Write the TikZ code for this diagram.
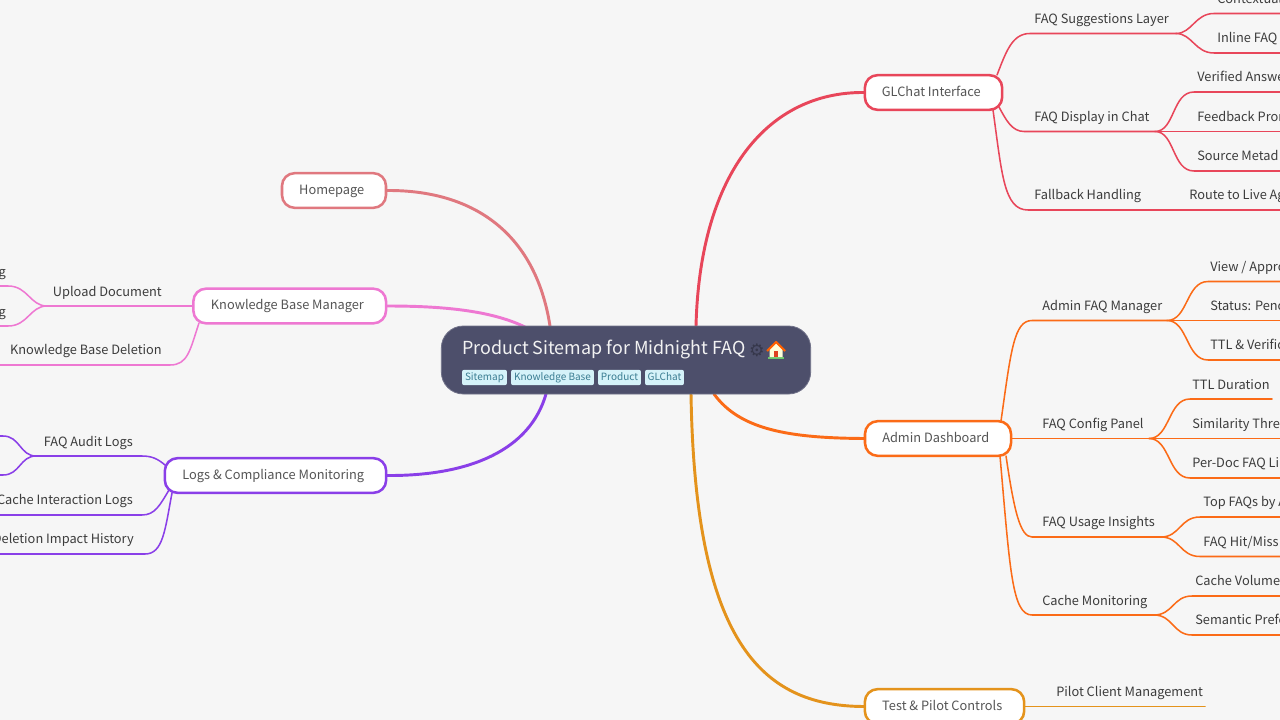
\documentclass[tikz,border=0pt]{standalone}
\usepackage{fontspec}
\setmainfont{Noto Sans CJK SC}
\newfontfamily\symfont{DejaVu Sans}
\pgfdeclarelayer{lines}
\pgfsetlayers{lines,main}
\definecolor{bgc}{HTML}{F6F6F6}
\definecolor{rootc}{HTML}{4D4F6B}
\definecolor{hpc}{HTML}{E0787F}
\definecolor{kbc}{HTML}{EE78D2}
\definecolor{lgc}{HTML}{8A3FE8}
\definecolor{glc}{HTML}{E8465A}
\definecolor{adc}{HTML}{FB6B17}
\definecolor{tpc}{HTML}{E4931C}
\definecolor{tagf}{HTML}{D5F2F9}
\definecolor{tagt}{HTML}{3B7D92}
\definecolor{leaft}{HTML}{3C3C3C}
\definecolor{brt}{HTML}{555555}
\newcommand{\fs}{\fontsize{9.6pt}{12pt}\selectfont}
\newcommand{\tk}{\kern3.4pt}
\tikzset{
 x=0.75pt,y=-0.75pt,
 branch/.style={draw=#1,line width=1.9pt,fill=white,rounded corners=9.5pt,inner sep=0pt,text=brt,font=\fs,minimum height=26pt,text height=8pt,text depth=2.3pt},
 mainline/.style={draw=#1,line width=2.2pt,line cap=round},
 subline/.style={draw=#1,line width=1.15pt,line cap=round},
 lbl/.style={anchor=base west,inner sep=0pt,text=leaft,font=\fs},
 lblr/.style={anchor=base east,inner sep=0pt,text=leaft,font=\fs},
 tagbox/.style={anchor=center,fill=tagf,rounded corners=1.5pt,inner sep=0pt,minimum height=11.5pt,text=tagt,font=\fontsize{7.5pt}{10pt}\selectfont,text height=6pt,text depth=1pt},
}
\begin{document}
\begin{tikzpicture}
\useasboundingbox (0,0) rectangle (1280,720);
\clip (0,0) rectangle (1280,720);
\begin{pgfonlayer}{lines}
\fill[bgc] (0,0) rectangle (1280,720);
\end{pgfonlayer}
% root
\node[draw=rootc!80!white,line width=0.6pt,fill=rootc,rounded corners=16.5pt,minimum width=277pt,minimum height=51pt,inner sep=0pt] (root) at (626,360) {};
\node[anchor=base west,inner sep=0pt,text=white!95!black,font=\fontsize{13.43pt}{18pt}\selectfont] (title) at (462,354) {Product Sitemap for Midnight FAQ};
\node[inner sep=0pt,text=rootc!70!black,font=\symfont\fontsize{13pt}{14pt}\selectfont] (gear) at (757,350) {⚙};
\node[tagbox,minimum width=33.7pt] (t1) at (484.5,377.5) {Sitemap};
\node[tagbox,minimum width=62.2pt] (t2) at (552.5,377.5) {Knowledge Base};
\node[tagbox,minimum width=32.2pt] (t3) at (619.5,377.5) {Product};
\node[tagbox,minimum width=29.2pt] (t4) at (664.5,377.5) {GLChat};
% house icon
\fill[green!45!gray!80] (768,356.5) rectangle (784,359);
\fill[yellow!15!white] (769.5,349) -- (776,343) -- (782.5,349) -- (782.5,357) -- (769.5,357) -- cycle;
\fill[red!50!brown] (774,351) rectangle (778,357);
\draw[orange!75!red,line width=1.6pt,line join=round] (767,351) -- (776,342) -- (785,351);
% branches
\node[branch=hpc,minimum width=78pt] (hp) at (334,190.5) {Homepage\tk};
\node[branch=kbc,minimum width=144.5pt] (kb) at (289.7,306) {Knowledge Base Manager\tk};
\node[branch=lgc,minimum width=166pt] (lg) at (275.5,475.5) {Logs \& Compliance Monitoring\tk};
\node[branch=glc,minimum width=103pt] (gl) at (933.5,92.5) {GLChat Interface\tk};
\node[branch=adc,minimum width=109.5pt] (ad) at (938,438.5) {Admin Dashboard\tk};
\node[branch=tpc,minimum width=119.5pt] (tp) at (944.5,706.5) {Test \& Pilot Controls\tk};
% labels, right side
\node[lbl] (a1) at (1034,24) {FAQ Suggestions Layer};
\node[lbl] (a2) at (1034,122) {FAQ Display in Chat};
\node[lbl] (a3) at (1034,200) {Fallback Handling};
\node[lbl] (a11) at (1217,4) {Contextual};
\node[lbl] (a12) at (1217,43) {Inline FAQ};
\node[lbl] (a21) at (1197,82) {Verified Answe};
\node[lbl] (a22) at (1197,121.5) {Feedback Pror};
\node[lbl] (a23) at (1197,161) {Source Metad};
\node[lbl] (a31) at (1189,200) {Route to Live Ag};
\node[lbl] (b1) at (1042,310) {Admin FAQ Manager};
\node[lbl] (b2) at (1042,428) {FAQ Config Panel};
\node[lbl] (b3) at (1042,526.5) {FAQ Usage Insights};
\node[lbl] (b4) at (1042,605) {Cache Monitoring};
\node[lbl] (b11) at (1210,271) {View / Appro};
\node[lbl] (b12) at (1210,310) {Status: Penc};
\node[lbl] (b13) at (1210,349) {TTL \& Verific};
\node[lbl] (b21) at (1192,389) {TTL Duration};
\node[lbl] (b22) at (1192,428) {Similarity Thre};
\node[lbl] (b23) at (1192,467) {Per-Doc FAQ Li};
\node[lbl] (b31) at (1203,506.5) {Top FAQs by A};
\node[lbl] (b32) at (1203,546) {FAQ Hit/Miss};
\node[lbl] (b41) at (1195,585) {Cache Volume};
\node[lbl] (b42) at (1195,624) {Semantic Prefe};
\node[lbl] (c1) at (1056,696) {Pilot Client Management};
% labels, left side
\node[lblr] (k11) at (6,276) {g};
\node[lblr] (k12) at (6,316) {g};
\node[lblr] (k1) at (162,296) {Upload Document};
\node[lblr] (k2) at (162,354) {Knowledge Base Deletion};
\node[lblr] (l1) at (133,446) {FAQ Audit Logs};
\node[lblr] (l2) at (133,504) {Cache Interaction Logs};
\node[lblr] (l3) at (134,543.5) {Deletion Impact History};
% line ends and bends
\coordinate (rHp) at (550,326); \coordinate (rKb) at (525,327); \coordinate (rLg) at (546,394);
\coordinate (rGl) at (696,326); \coordinate (rAd) at (714,394); \coordinate (rTp) at (691,394);
\coordinate (ja1) at (1176,33.5); \coordinate (ja2) at (1155,131.5); \coordinate (ea3) at (1282,210);
\coordinate (jb1) at (1167,320.5); \coordinate (jb2) at (1149,438.5); \coordinate (jb3) at (1161,537); \coordinate (jb4) at (1154,615);
\coordinate (ec1) at (1205,706.5);
\coordinate (jk1) at (47,306); \coordinate (ek2) at (-2,365);
\coordinate (jl1) at (36,456); \coordinate (el2) at (-2,515); \coordinate (el3) at (-2,554);
\begin{pgfonlayer}{lines}
% main connectors
\draw[mainline=hpc] (hp.east) .. controls (470,190) and (535,230) .. (rHp);
\draw[mainline=kbc] (kb.east) .. controls (440,306) and (490,310) .. (rKb);
\draw[mainline=lgc] (lg.east) .. controls (470,476) and (530,450) .. (rLg);
\draw[mainline=glc] (gl.west) .. controls (770,92) and (700,170) .. (rGl);
\draw[mainline=adc] (ad.west) .. controls (790,438) and (740,430) .. (rAd);
\draw[mainline=tpc] (tp.west) .. controls (760,706) and (695,640) .. (rTp);
% GLChat
\draw[subline=glc] (997,75) .. controls (1006,52) and (1012,33.5) .. (1030,33.5) -- (ja1);
\draw[subline=glc] (999,107) .. controls (1006,120) and (1012,131.5) .. (1024,131.5) -- (ja2);
\draw[subline=glc] (993,110) .. controls (1002,175) and (1004,210) .. (1028,210) -- (ea3);
\draw[subline=glc] (ja1) .. controls (1192,33.5) and (1195,13.5) .. (1214,13.5) -- (1282,13.5);
\draw[subline=glc] (ja1) .. controls (1192,33.5) and (1195,53) .. (1214,53) -- (1282,53);
\draw[subline=glc] (ja2) .. controls (1175,131.5) and (1172,92) .. (1194,92) -- (1282,92);
\draw[subline=glc] (ja2) -- (1282,131.5);
\draw[subline=glc] (ja2) .. controls (1175,131.5) and (1172,171) .. (1194,171) -- (1282,171);
% Admin
\draw[subline=adc] (1001,421) .. controls (1011,350) and (1014,320.5) .. (1032,320.5) -- (jb1);
\draw[subline=adc] (ad.east) -- (jb2);
\draw[subline=adc] (1006,456) .. controls (1014,510) and (1020,537) .. (1032,537) -- (jb3);
\draw[subline=adc] (1000,456) .. controls (1010,570) and (1012,615) .. (1032,615) -- (jb4);
\draw[subline=adc] (jb1) .. controls (1188,320.5) and (1186,281.5) .. (1208,281.5) -- (1282,281.5);
\draw[subline=adc] (jb1) -- (1282,320.5);
\draw[subline=adc] (jb1) .. controls (1188,320.5) and (1186,360) .. (1208,360) -- (1282,360);
\draw[subline=adc] (jb2) .. controls (1170,438.5) and (1168,399) .. (1190,399) -- (1272,399);
\draw[subline=adc] (jb2) -- (1282,438.5);
\draw[subline=adc] (jb2) .. controls (1170,438.5) and (1168,478) .. (1190,478) -- (1282,478);
\draw[subline=adc] (jb3) .. controls (1180,537) and (1180,517) .. (1200,517) -- (1282,517);
\draw[subline=adc] (jb3) .. controls (1180,537) and (1180,556.5) .. (1200,556.5) -- (1282,556.5);
\draw[subline=adc] (jb4) .. controls (1173,615) and (1173,596) .. (1192,596) -- (1282,596);
\draw[subline=adc] (jb4) .. controls (1173,615) and (1173,635) .. (1192,635) -- (1282,635);
% Test
\draw[subline=tpc] (tp.east) -- (ec1);
% KB
\draw[subline=kbc] (kb.west) -- (jk1);
\draw[subline=kbc] (199,323) .. controls (190,350) and (188,365) .. (170,365) -- (ek2);
\draw[subline=kbc] (jk1) .. controls (30,306) and (28,286) .. (8,286) -- (-2,286);
\draw[subline=kbc] (jk1) .. controls (30,306) and (28,326) .. (8,326) -- (-2,326);
% Logs
\draw[subline=lgc] (165,465) .. controls (158,459) and (152,456) .. (142,456) -- (jl1);
\draw[subline=lgc] (169,490) .. controls (160,505) and (155,515) .. (142,515) -- (el2);
\draw[subline=lgc] (172,493) .. controls (165,530) and (163,554) .. (145,554) -- (el3);
\draw[subline=lgc] (jl1) .. controls (20,456) and (20,436) .. (3,436) -- (-2,436);
\draw[subline=lgc] (jl1) .. controls (20,456) and (20,475) .. (3,475) -- (-2,475);
\end{pgfonlayer}
\end{tikzpicture}
\end{document}
